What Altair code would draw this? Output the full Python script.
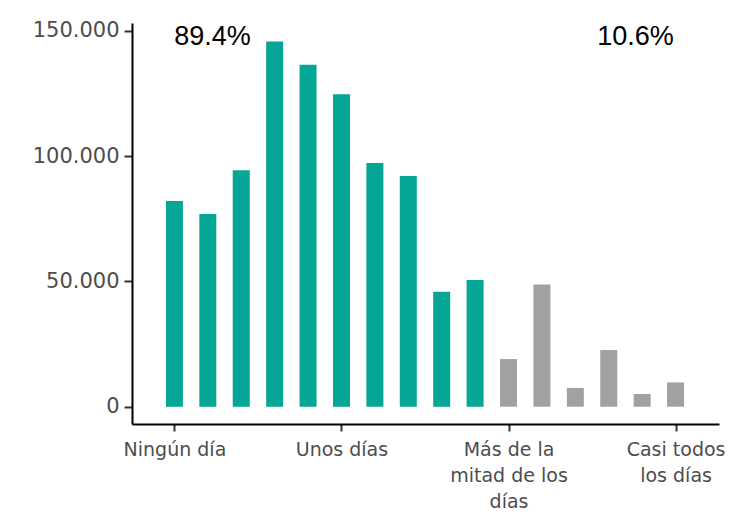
import json
import altair as alt
import pandas as pd

positions = list(range(16))
values = [82100, 76900, 94300, 145700, 136400, 124700, 97200, 92100,
          45900, 50600, 19000, 48800, 7500, 22600, 5100, 9700]
groups = ["hasta la mitad"] * 10 + ["más de la mitad"] * 6
group_names = ["hasta la mitad", "más de la mitad"]
group_colors = ["#05a696", "#a1a1a1"]

tick_positions = [0, 5, 10, 15]
tick_labels = [["Ningún día"], ["Unos días"],
               ["Más de la", "mitad de los", "días"],
               ["Casi todos", "los días"]]

pct_x = [1.14, 13.8]
pct_y = [147500, 147500]
pct_text = ["89.4%", "10.6%"]

y_ticks = [0, 50000, 100000, 150000]

df = pd.DataFrame({"pos": positions, "value": values, "group": groups})
df_txt = pd.DataFrame({"x": pct_x, "y": pct_y, "t": pct_text})

expr = "''"
for p, lab in reversed(list(zip(tick_positions, tick_labels))):
    expr = f"datum.value == {p} ? {json.dumps(lab, ensure_ascii=False)} : ({expr})"

TICKFONT = "DejaVu Sans"
FONT = "Liberation Sans"

xscale = alt.Scale(domain=[-1.27, 16.3], nice=False, zero=False, padding=0)
yscale = alt.Scale(domain=[-6900, 153100], nice=False, zero=False, padding=0)

bars = alt.Chart(df).mark_bar(size=17).encode(
    x=alt.X("pos:Q", scale=xscale,
            axis=alt.Axis(values=tick_positions, labelExpr=expr, grid=False,
                          title=None, domainColor="black", domainWidth=2,
                          tickColor="#333333", tickWidth=2, tickSize=7,
                          labelFontSize=19, labelColor="#4d4d4d", labelFont=TICKFONT,
                          labelPadding=9, labelLineHeight=26, labelFlush=False,
                          labelOverlap=False)),
    y=alt.Y("value:Q", scale=yscale,
            axis=alt.Axis(values=y_ticks,
                          labelExpr="replace(format(datum.value, ','), ',', '.')",
                          grid=False, title=None, domainColor="black", domainWidth=2,
                          tickColor="#333333", tickWidth=2, tickSize=8,
                          labelFontSize=21, labelColor="#4d4d4d", labelFont=TICKFONT,
                          labelPadding=5, labelFlush=False, labelOverlap=False)),
    y2=alt.datum(0),
    color=alt.Color("group:N", scale=alt.Scale(domain=group_names, range=group_colors),
                    legend=None),
)

txt = alt.Chart(df_txt).mark_text(font=FONT, fontSize=27, color="black",
                                  baseline="middle", align="center").encode(
    x=alt.X("x:Q", scale=xscale),
    y=alt.Y("y:Q", scale=yscale),
    text="t:N",
)

chart = (bars + txt).properties(
    width=587, height=401,
    autosize=alt.AutoSizeParams(type="none"),
    padding={"left": 124, "top": 15, "right": 6, "bottom": 87},
    background="white",
).configure_view(stroke=None)

chart.save("out.html", embed_options={"renderer": "svg", "actions": False})
